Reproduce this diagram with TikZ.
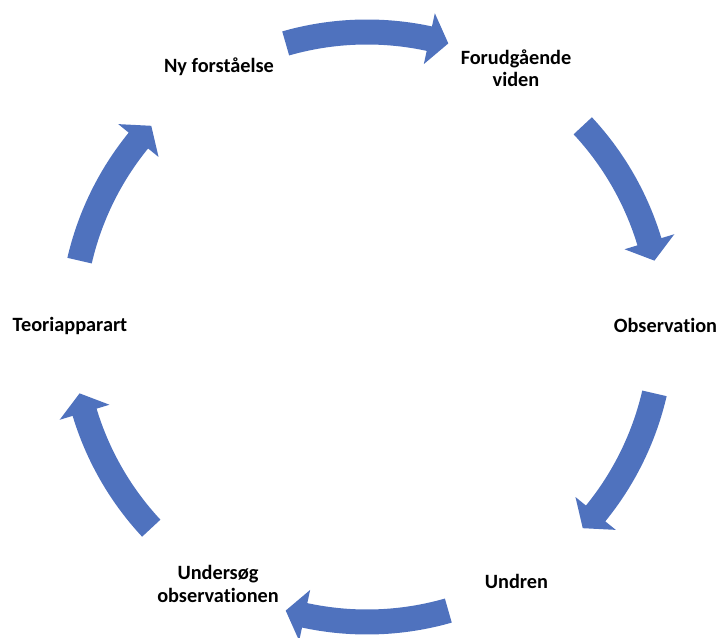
\documentclass[tikz,border=0pt]{standalone}
\usepackage{fontspec}
\setmainfont{Carlito}[Ligatures=NoCommon]
\definecolor{arrowblue}{RGB}{79,114,190}
\newcommand\cycarrow[2]{% #1 tail angle, #2 tip angle
  \pgfmathsetmacro\hb{#2 + sign(#1-#2)*3.8}%
  \fill[arrowblue] (#1:282.5) arc[start angle=#1, end angle=\hb, radius=282.5]
    -- (\hb:269) -- (#2:295) -- (\hb:321) -- (\hb:307.5)
    arc[start angle=\hb, end angle=#1, radius=307.5] -- cycle;%
}
\tikzset{lbl/.style={font=\fontsize{20.3}{22.5}\selectfont\bfseries, align=center, anchor=base, inner sep=0pt, text=black}}
\begin{document}
\begin{tikzpicture}[x=1pt,y=1pt]
\useasboundingbox (0,0) rectangle (719,637);
\begin{scope}[shift={(367,310)}]
  \cycarrow{106}{74}
  \cycarrow{43}{13}
  \cycarrow{-13}{-43}
  \cycarrow{-74}{-106}
  \cycarrow{-137}{-167}
  \cycarrow{167}{137}
\end{scope}
\node[lbl] (ny) at (219,564) {Ny forståelse};
\node[lbl] (forud) at (516,550) {Forudgående\\viden};
\node[lbl] (obs) at (665.5,304) {Observation};
\node[lbl] (undren) at (516.5,49) {Undren};
\node[lbl] (unders) at (218,35) {Undersøg\\observationen};
\node[lbl] (teori) at (70,305) {Teoriapparart};
\end{tikzpicture}
\end{document}
